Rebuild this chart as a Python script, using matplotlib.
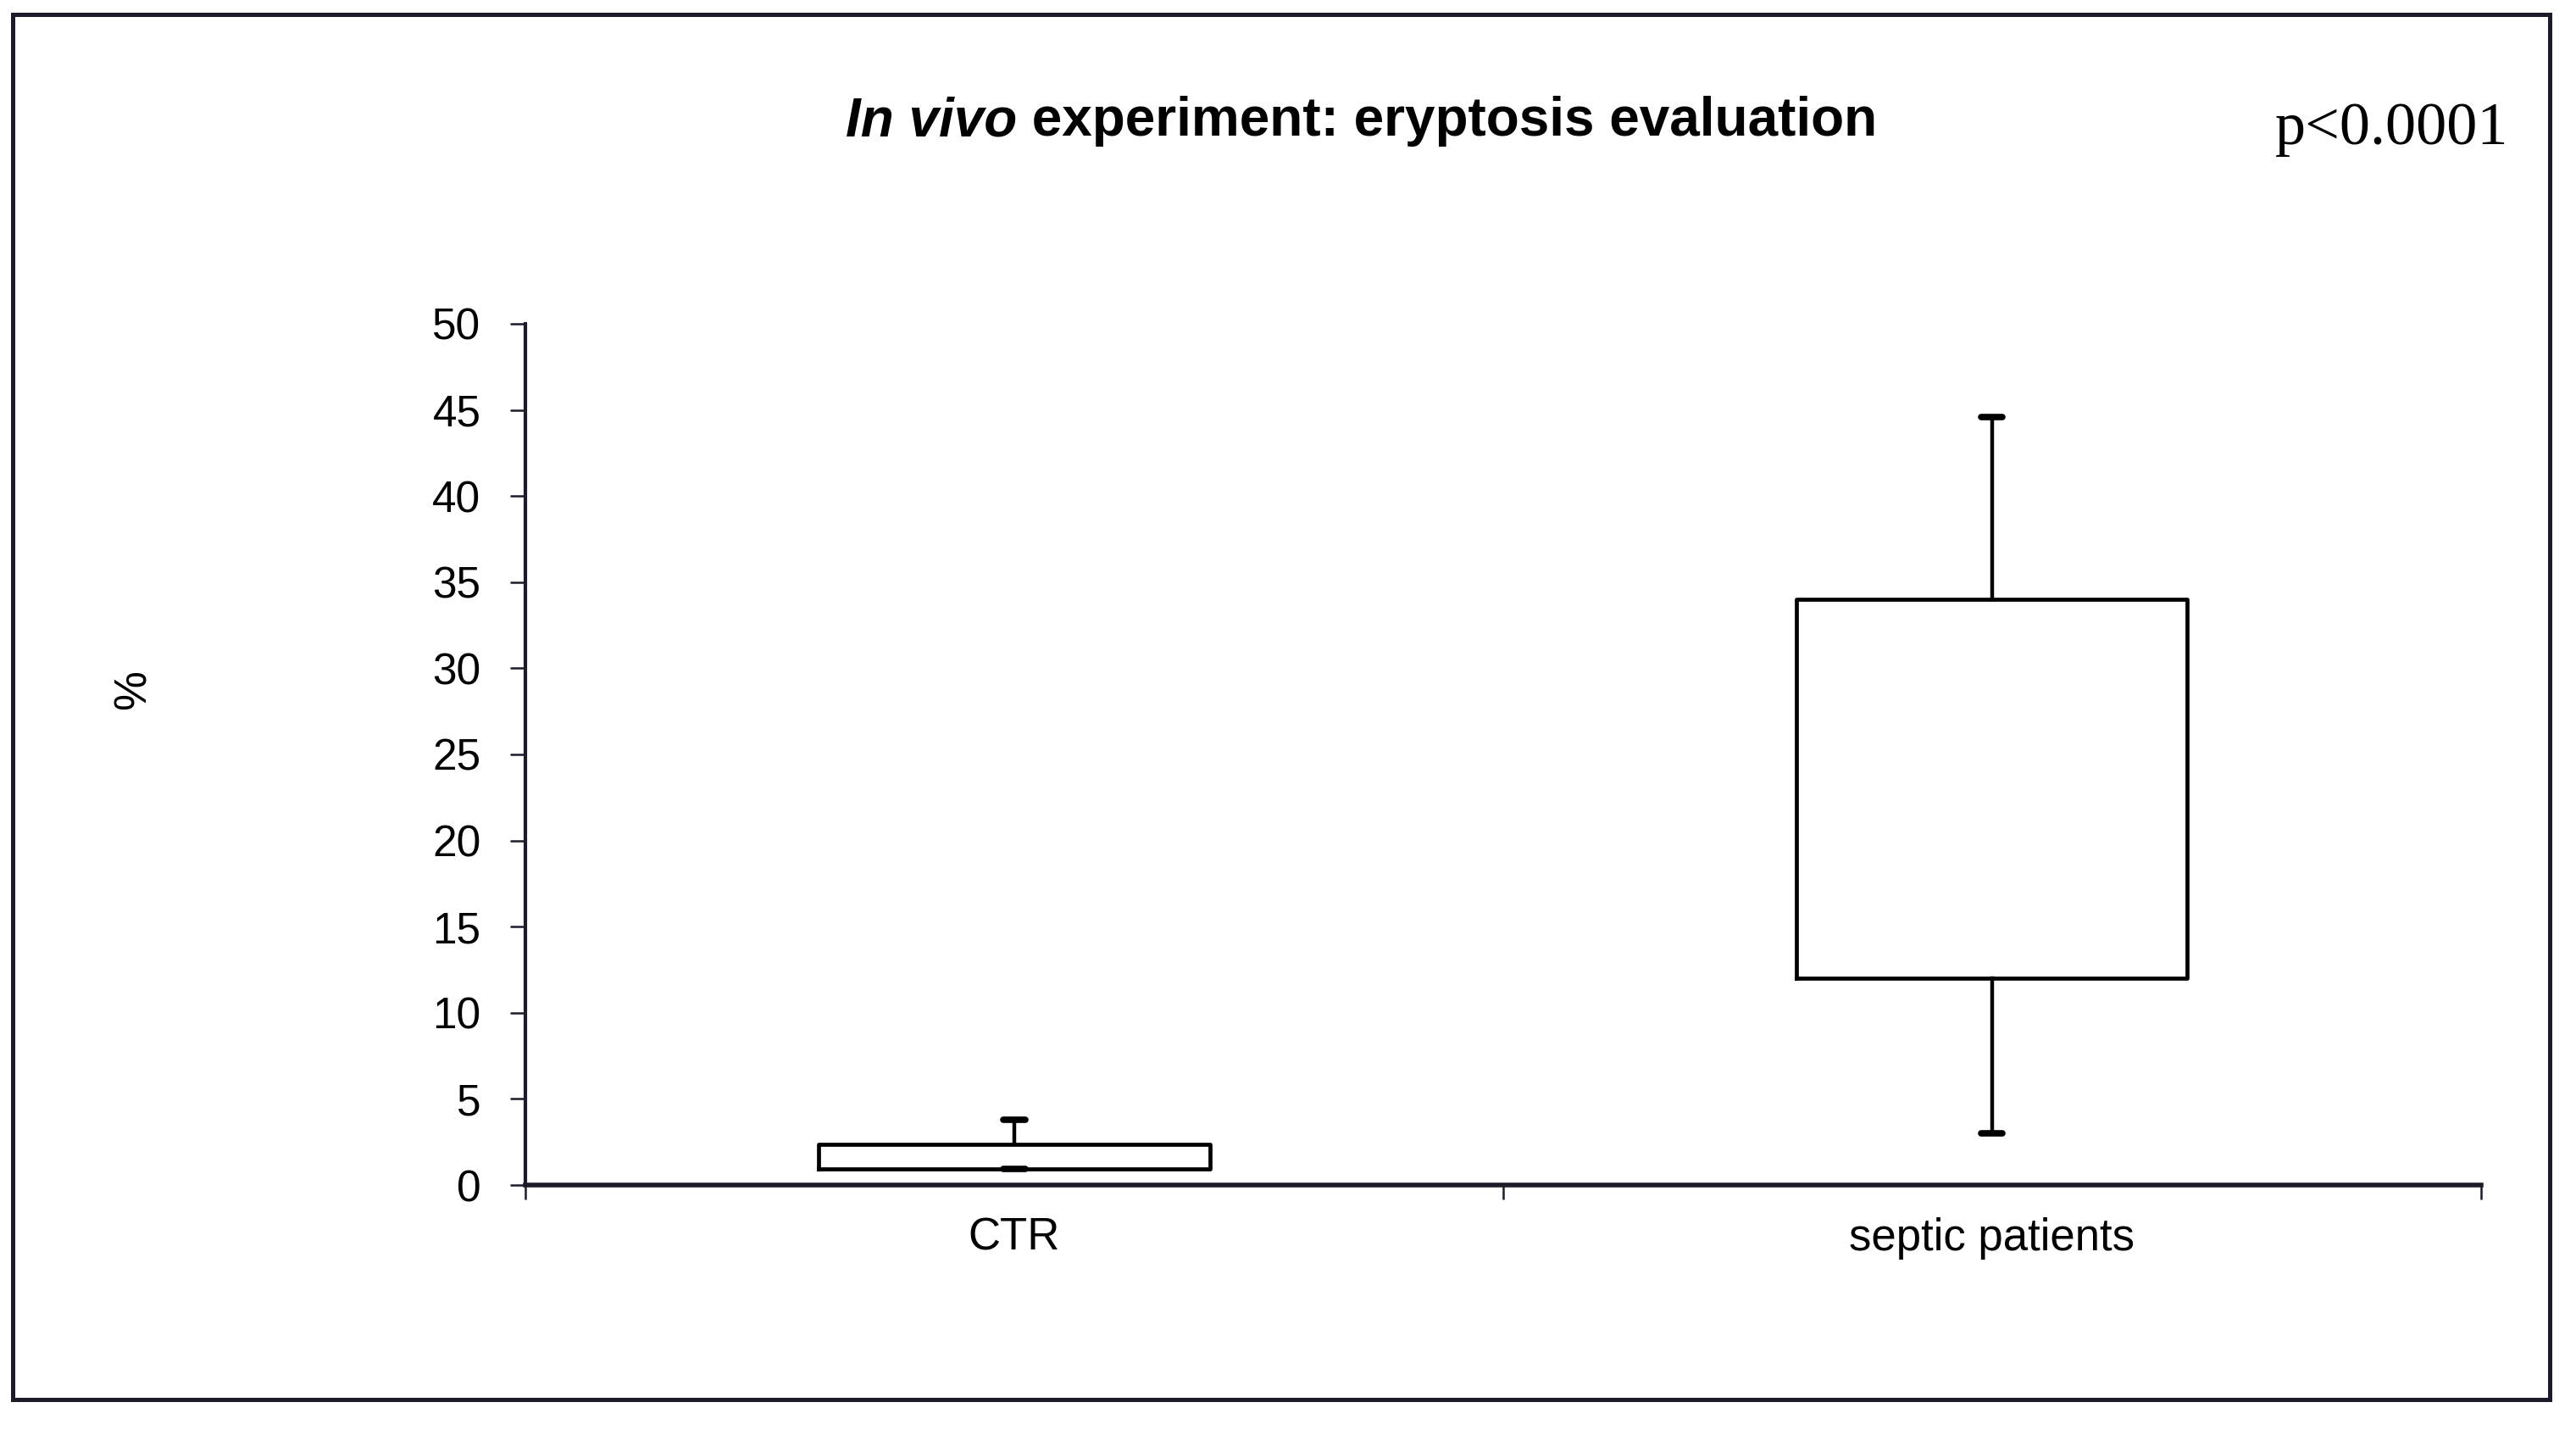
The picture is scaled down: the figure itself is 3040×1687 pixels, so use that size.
import numpy as np
import matplotlib
matplotlib.use('Agg')
import matplotlib.pyplot as plt
from matplotlib.patches import Rectangle

# box plot summary values (%)
groups = ['CTR', 'septic patients']
whisker_low = [0.95, 3.0]
q1 = [0.95, 12.0]
q3 = [2.35, 34.0]
whisker_high = [3.8, 44.6]
y_ticks = list(range(0, 55, 5))

plt.rcParams['font.family'] = ['Liberation Sans', 'DejaVu Sans']
axis_col = '#1b1b2a'

fig = plt.figure(figsize=(30.4, 16.87), dpi=100)
ax = fig.add_axes([0.204, 0.1713, 0.759, 0.6023])

stats = []
for i in range(len(groups)):
  stats.append(dict(label=groups[i], whislo=whisker_low[i], q1=q1[i], med=q1[i],
                    q3=q3[i], whishi=whisker_high[i]))

positions = np.arange(len(groups)) + 0.5
ax.bxp(stats, positions=positions, widths=0.4, showfliers=False, capwidths=0.022,
       boxprops=dict(color='black', linewidth=3.4),
       whiskerprops=dict(color='black', linewidth=3.2),
       capprops=dict(color='black', linewidth=5.5, solid_capstyle='round'),
       medianprops=dict(linewidth=0))

ax.set_xlim(0, len(groups))
ax.set_ylim(0, 50)
ax.set_yticks(y_ticks)
ax.set_yticklabels([str(t) for t in y_ticks])
ax.tick_params(axis='y', direction='out', length=13, width=1.8, color=axis_col,
               labelsize=37, pad=25)

# category boundaries as ticks, names centred between them
ax.set_xticks(np.arange(len(groups) + 1))
ax.set_xticklabels([''] * (len(groups) + 1))
ax.set_xticks(positions, minor=True)
ax.set_xticklabels(groups, minor=True)
ax.tick_params(axis='x', which='major', direction='out', length=12, width=1.8, color=axis_col)
ax.tick_params(axis='x', which='minor', length=0, labelsize=38, pad=27)

for s in ['top', 'right']:
  ax.spines[s].set_visible(False)
ax.spines['left'].set_linewidth(3)
ax.spines['left'].set_color(axis_col)
ax.spines['bottom'].set_linewidth(4)
ax.spines['bottom'].set_color(axis_col)

# title: "In vivo" in italic
t1 = fig.text(0.3283, 0.905, 'In vivo', fontsize=46, fontweight='bold', style='italic',
              ha='left', va='baseline')
ax.annotate(' experiment: eryptosis evaluation', xy=(1, 0), xycoords=t1,
            fontsize=46, fontweight='bold', ha='left', va='bottom',
            annotation_clip=False)

fig.text(0.8832, 0.899, 'p<0.0001', fontsize=52, family='Liberation Serif',
         ha='left', va='baseline')
fig.text(0.052, 0.5175, '%', fontsize=38, rotation=90, ha='center', va='center')

fig.patches.append(Rectangle((15 / 3040, 1 - 1651 / 1687), (3009 - 15) / 3040,
                             (1651 - 17) / 1687, transform=fig.transFigure,
                             fill=False, linewidth=3.6, edgecolor=axis_col))

fig.savefig('out.png', dpi=100, facecolor='white')
